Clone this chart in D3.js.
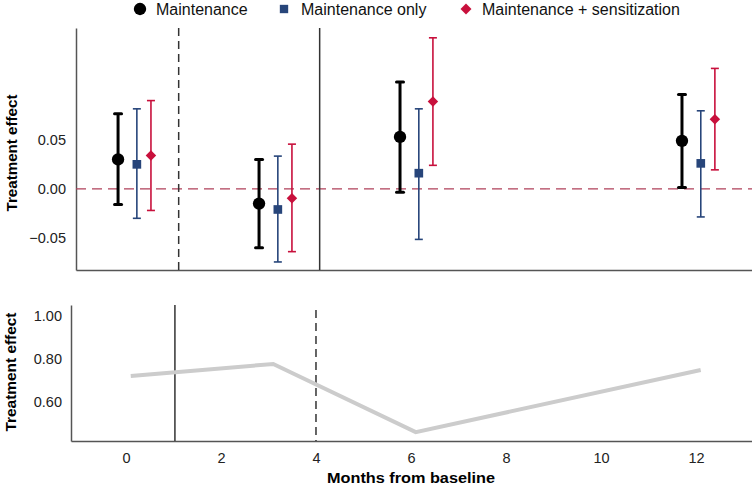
<!DOCTYPE html>
<html><head><meta charset="utf-8">
<script src="https://cdn.jsdelivr.net/npm/d3@7"></script>
<style>body{margin:0;background:#fff}svg{display:block;font-family:"Liberation Sans",Arial,sans-serif}</style>
</head><body><svg id="c" width="752" height="487"></svg>
<script>
// ---- data ----
const groups = [0, 3, 6, 12];                       // months of measurement
const series = ["Maintenance", "Maintenance only", "Maintenance + sensitization"];
const seriesOffset = [-0.19, 0.21, 0.51];           // month dodge per series
const est   = [[0.030, 0.025, 0.034], [-0.015, -0.021, -0.0095], [0.053, 0.016, 0.089], [0.049, 0.026, 0.071]];
const lower = [[-0.016, -0.030, -0.022], [-0.060, -0.0745, -0.064], [-0.0035, -0.0515, 0.024], [0.0013, -0.0286, 0.0194]];
const upper = [[0.0765, 0.0816, 0.090], [0.030, 0.0334, 0.0456], [0.109, 0.0816, 0.154], [0.0962, 0.0796, 0.1228]];
const topRefLines = [{m: 1.1, dashed: true}, {m: 4.1, dashed: false}];
const topYTicks = [-0.05, 0.00, 0.05];

const lineMonths = [0.1, 3.1, 6.1, 12.1];
const lineValues = [0.721, 0.777, 0.460, 0.749];
const bottomRefLines = [{m: 1.03, dashed: false}, {m: 4.0, dashed: true}];
const bottomYTicks = [0.60, 0.80, 1.00];
const xTicks = [0, 2, 4, 6, 8, 10, 12];

// ---- styles ----
const colors = ["#000000", "#27457a", "#c8103c"];
const svg = d3.select("#c");

// diamond = rotated square
function sym(i, size) {
  const t = [d3.symbolCircle, d3.symbolSquare, d3.symbolSquare][i];
  return d3.symbol().type(t).size(size)();
}
const rot = i => i === 2 ? " rotate(45)" : "";

// ---- top panel ----
const xT = d3.scaleLinear().domain([-1.085, 13.30]).range([76, 752]);
const yT = d3.scaleLinear().domain([-0.0827, 0.164]).range([270, 28]);

const gT = svg.append("g");
gT.append("g").attr("transform", "translate(76,0)")
  .call(d3.axisLeft(yT).tickValues(topYTicks).tickSize(0).tickPadding(10).tickFormat(d3.format(".2f")))
  .call(g => { g.select(".domain").attr("stroke", "#555").attr("stroke-width", 1.5);
               g.selectAll("text").attr("font-size", 14.5).attr("fill", "#222"); });
gT.append("g").attr("transform", "translate(0,270)")
  .call(d3.axisBottom(xT).tickValues([]).tickSize(0))
  .call(g => g.select(".domain").attr("stroke", "#555").attr("stroke-width", 1.5));

gT.append("line").attr("x1", 76).attr("x2", 752).attr("y1", yT(0)).attr("y2", yT(0))
  .attr("stroke", "#b0405a").attr("stroke-width", 1.2).attr("stroke-dasharray", "10,6");

gT.selectAll(".ref").data(topRefLines).enter().append("line")
  .attr("x1", d => xT(d.m)).attr("x2", d => xT(d.m)).attr("y1", 28).attr("y2", 270)
  .attr("stroke", "#333").attr("stroke-width", 1.5)
  .attr("stroke-dasharray", d => d.dashed ? "8,5" : null);

const pts = [];
groups.forEach((m, gi) => series.forEach((s, si) => pts.push({m: m + seriesOffset[si], si, e: est[gi][si], lo: lower[gi][si], hi: upper[gi][si]})));

const eb = gT.selectAll(".eb").data(pts).enter().append("g");
eb.append("line").attr("x1", d => xT(d.m)).attr("x2", d => xT(d.m))
  .attr("y1", d => yT(d.lo)).attr("y2", d => yT(d.hi))
  .attr("stroke", d => colors[d.si]).attr("stroke-width", d => d.si === 0 ? 3 : 1.6);
["lo", "hi"].forEach(k => {
  eb.append("line").attr("x1", d => xT(d.m) - (d.si === 0 ? 3.5 : 4)).attr("x2", d => xT(d.m) + (d.si === 0 ? 3.5 : 4))
    .attr("y1", d => yT(d[k])).attr("y2", d => yT(d[k]))
    .attr("stroke", d => colors[d.si]).attr("stroke-width", d => d.si === 0 ? 3 : 1.6)
    .attr("stroke-linecap", d => d.si === 0 ? "round" : "butt");
});
const symSizes = [120, 75, 55];
eb.append("path").attr("transform", d => `translate(${xT(d.m)},${yT(d.e)})` + rot(d.si))
  .attr("d", d => sym(d.si, symSizes[d.si]))
  .attr("fill", d => colors[d.si]);

svg.append("text").attr("transform", "translate(17,153) rotate(-90)").attr("text-anchor", "middle")
  .attr("font-size", 14).attr("font-weight", "bold").attr("textLength", 117).attr("lengthAdjust", "spacingAndGlyphs")
  .text("Treatment effect");

// ---- legend ----
const legX = [140, 284, 466];
const leg = svg.selectAll(".leg").data(series).enter().append("g").attr("transform", (d, i) => `translate(${legX[i]},9)` + rot(i));
leg.append("path").attr("d", (d, i) => sym(i, [120, 70, 60][i])).attr("fill", (d, i) => colors[i]);
svg.selectAll(".legt").data(series).enter().append("text")
  .attr("x", (d, i) => legX[i] + [16, 17, 16][i]).attr("y", 15).attr("font-size", 16).attr("fill", "#111").text(d => d);

// ---- bottom panel ----
const xB = d3.scaleLinear().domain([-1.158, 13.18]).range([71, 752]);
const yB = d3.scaleLinear().domain([0.419, 1.051]).range([441, 305]);
const gB = svg.append("g");
gB.append("g").attr("transform", "translate(71,0)")
  .call(d3.axisLeft(yB).tickValues(bottomYTicks).tickSize(0).tickPadding(9).tickFormat(d3.format(".2f")))
  .call(g => { g.select(".domain").attr("stroke", "#555").attr("stroke-width", 1.5);
               g.selectAll("text").attr("font-size", 14.5).attr("fill", "#222"); });
gB.append("g").attr("transform", "translate(0,441)")
  .call(d3.axisBottom(xB).tickValues(xTicks).tickSize(0).tickPadding(12))
  .call(g => { g.select(".domain").attr("stroke", "#555").attr("stroke-width", 1.5);
               g.selectAll("text").attr("font-size", 14.5).attr("fill", "#222"); });

gB.selectAll(".ref").data(bottomRefLines).enter().append("line")
  .attr("x1", d => xB(d.m)).attr("x2", d => xB(d.m)).attr("y1", d => d.dashed ? 310 : 305).attr("y2", 441)
  .attr("stroke", "#333").attr("stroke-width", 1.5)
  .attr("stroke-dasharray", d => d.dashed ? "8,5" : null);

gB.append("path").datum(lineMonths.map((m, i) => [m, lineValues[i]]))
  .attr("d", d3.line().x(d => xB(d[0])).y(d => yB(d[1])))
  .attr("fill", "none").attr("stroke", "#cccccc").attr("stroke-width", 4);

svg.append("text").attr("transform", "translate(16,372) rotate(-90)").attr("text-anchor", "middle")
  .attr("font-size", 14).attr("font-weight", "bold").attr("textLength", 119).attr("lengthAdjust", "spacingAndGlyphs")
  .text("Treatment effect");
svg.append("text").attr("x", 411).attr("y", 483).attr("text-anchor", "middle")
  .attr("font-size", 15).attr("font-weight", "bold").attr("textLength", 168).attr("lengthAdjust", "spacingAndGlyphs")
  .text("Months from baseline");
</script></body></html>
